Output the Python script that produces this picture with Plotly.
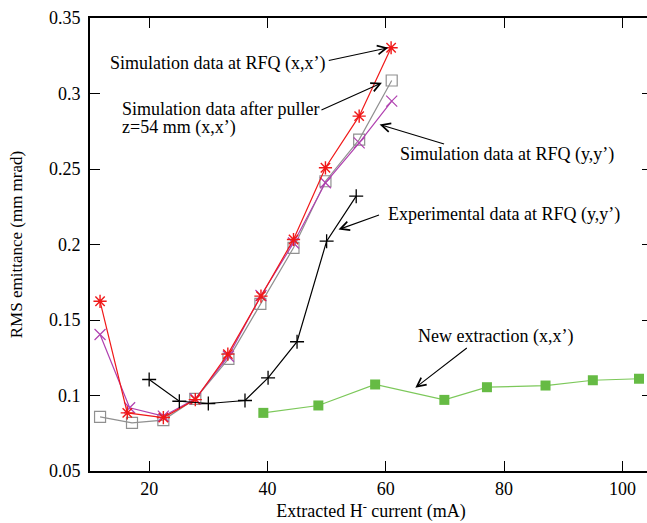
import plotly.graph_objects as go

# Data
x_red = [11.7, 16.3, 22.4, 27.8, 33.3, 38.9, 44.4, 49.8, 55.5, 60.9]
y_red = [0.1624, 0.0885, 0.0854, 0.0973, 0.1274, 0.1658, 0.2033, 0.2508, 0.2850, 0.3303]

x_gray = [11.7, 17.1, 22.4, 27.8, 33.4, 38.8, 44.4, 49.8, 55.5, 61.0]
y_gray = [0.0859, 0.0819, 0.0837, 0.0978, 0.1243, 0.1607, 0.1978, 0.2419, 0.2695, 0.3086]

x_mag = [11.7, 16.7, 22.4, 27.8, 33.4, 38.9, 44.4, 49.8, 55.5, 61.0]
y_mag = [0.1404, 0.0919, 0.0863, 0.0978, 0.1260, 0.1662, 0.2010, 0.2409, 0.2673, 0.2949]

x_exp = [20.0, 25.1, 30.0, 36.2, 40.1, 45.0, 50.0, 55.0]
y_exp = [0.1106, 0.0962, 0.0947, 0.0967, 0.1117, 0.1356, 0.2022, 0.2320]

x_new = [39.3, 48.6, 58.2, 69.9, 77.1, 87.0, 95.0, 102.8]
y_new = [0.0885, 0.0934, 0.1073, 0.0971, 0.1055, 0.1066, 0.1101, 0.1111]

x_ticks = [20, 40, 60, 80, 100]
y_ticks = [0.05, 0.1, 0.15, 0.2, 0.25, 0.3, 0.35]

FONT = "Liberation Serif"

fig = go.Figure()
fig.add_trace(go.Scatter(x=x_gray, y=y_gray, mode="lines+markers",
                         line=dict(color="#909090", width=1.2),
                         marker=dict(symbol="square-open", size=11, color="#909090",
                                     line=dict(width=1.2, color="#909090"))))
fig.add_trace(go.Scatter(x=x_mag, y=y_mag, mode="lines+markers",
                         line=dict(color="#b040b0", width=1.2),
                         marker=dict(symbol="x-thin-open", size=11,
                                     line=dict(width=1.2, color="#b040b0"))))
fig.add_trace(go.Scatter(x=x_red, y=y_red, mode="lines+markers",
                         line=dict(color="#f01818", width=1.2),
                         marker=dict(symbol="asterisk-open", size=11,
                                     line=dict(width=1.4, color="#f01818"))))
fig.add_trace(go.Scatter(x=x_exp, y=y_exp, mode="lines+markers",
                         line=dict(color="#000000", width=1.2),
                         marker=dict(symbol="cross-thin-open", size=10,
                                     line=dict(width=1.3, color="#000000"))))
fig.add_trace(go.Scatter(x=x_new, y=y_new, mode="lines+markers",
                         line=dict(color="#7cc85a", width=1.2),
                         marker=dict(symbol="square", size=10, color="#66bb44",
                                     line=dict(width=0))))

# Arrows (head at data point, tail offset in pixels)
arrows = [
    (60.42, 0.3303, -61, 13),
    (59.35, 0.3071, -62, 28),
    (58.95, 0.2795, 66, 20),
    (52.01, 0.2099, 42, -15),
    (64.99, 0.1051, 53, -41),
]
for ax_, ay_, dx, dy in arrows:
    fig.add_annotation(x=ax_, y=ay_, xref="x", yref="y", ax=dx, ay=dy,
                       showarrow=True, arrowhead=5, arrowsize=1.6, arrowwidth=1.1,
                       arrowcolor="#000000", text="", standoff=0)

labels = [
    (13.06, 0.3199, "Simulation data at RFQ (x,x’)"),
    (15.09, 0.2897, "Simulation data after puller"),
    (15.09, 0.2772, "z=54 mm (x,x’)"),
    (62.06, 0.2596, "Simulation data at RFQ (y,y’)"),
    (60.08, 0.2199, "Experimental data at RFQ (y,y’)"),
    (65.10, 0.1393, "New extraction (x,x’)"),
]
for lx, ly, t in labels:
    fig.add_annotation(x=lx, y=ly, xref="x", yref="y", text=t, showarrow=False,
                       xanchor="left", yanchor="middle", align="left",
                       font=dict(family=FONT, size=18, color="#000000"))

# The figure is a few pixels wider than the page; the right frame line falls
# just outside the visible window, like in the reference.
fig.update_layout(
    width=652, height=523,
    margin=dict(l=90, r=0, t=18, b=52),
    paper_bgcolor="white", plot_bgcolor="white",
    showlegend=False,
    font=dict(family=FONT, size=18, color="#000000"),
    xaxis=dict(range=[10, 105], tickvals=x_ticks, ticks="inside", ticklen=10,
               tickwidth=1.3, tickcolor="#000", showline=True, linewidth=2,
               linecolor="#000", mirror="ticks", showgrid=False, zeroline=False,
               automargin=False,
               title=dict(text="Extracted H<sup>-</sup> current (mA)", standoff=6,
                          font=dict(family=FONT, size=18)),
               tickfont=dict(family=FONT, size=18)),
    yaxis=dict(range=[0.05, 0.35], tickvals=y_ticks, ticks="inside", ticklen=10,
               tickwidth=1.3, tickcolor="#000", showline=True, linewidth=2,
               linecolor="#000", mirror="ticks", showgrid=False, zeroline=False,
               automargin=False, ticklabelstandoff=4,
               title=dict(text="RMS emittance (mm mrad)", standoff=22,
                          font=dict(family=FONT, size=17)),
               tickfont=dict(family=FONT, size=18)),
)

fig.write_html("out.html", config={"displayModeBar": False},
               post_script="document.body.style.margin='0';document.body.style.overflow='hidden';")
